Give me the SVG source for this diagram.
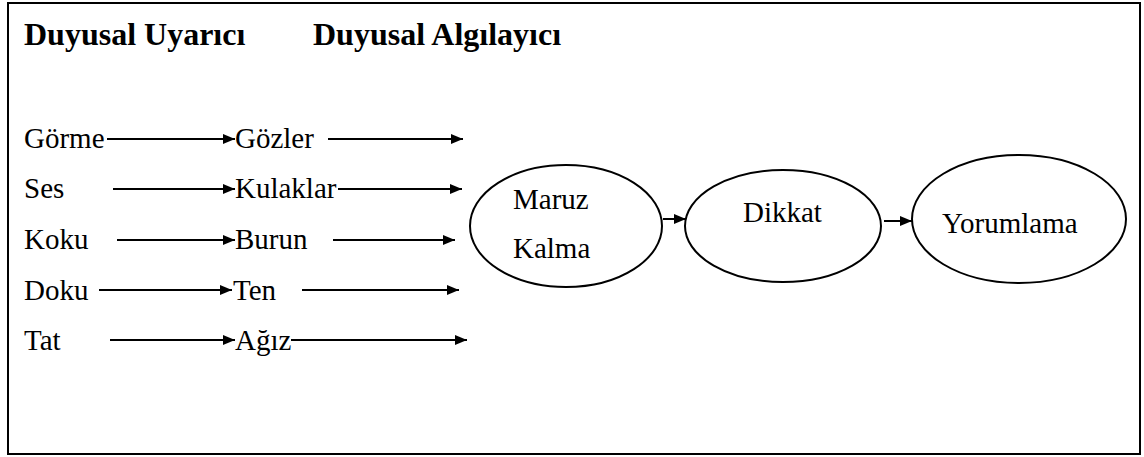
<svg xmlns="http://www.w3.org/2000/svg" width="1144" height="457" viewBox="0 0 1144 457">
<style>
text{font-family:'Liberation Serif','Times New Roman',Times,'DejaVu Serif',serif;fill:#000}
.t{font-size:29px}
.h{font-size:32px;font-weight:bold}
.c line{stroke:#000;stroke-width:2}
.e{fill:none;stroke:#000;stroke-width:2}
</style>
<defs>
<marker id="ah" viewBox="0 0 12 10" refX="12" refY="5" markerWidth="12" markerHeight="10" markerUnits="userSpaceOnUse" orient="auto">
<path d="M0,0 L12,5 L0,10 Z" fill="#000"/>
</marker>
</defs>
<rect x="0" y="0" width="1144" height="457" fill="#fff"/>
<rect x="8" y="3" width="1132" height="451" fill="none" stroke="#000" stroke-width="2"/>
<g id="headers">
<text class="h" x="24" y="45">Duyusal Uyarıcı</text>
<text class="h" x="313" y="45">Duyusal Algılayıcı</text>
</g>
<g id="stimuli">
<text class="t" x="24" y="148">Görme</text>
<text class="t" x="24" y="198">Ses</text>
<text class="t" x="24" y="249">Koku</text>
<text class="t" x="24" y="300">Doku</text>
<text class="t" x="24" y="350">Tat</text>
</g>
<g id="receptors">
<text class="t" x="235" y="148">Gözler</text>
<text class="t" x="235" y="198">Kulaklar</text>
<text class="t" x="235" y="249">Burun</text>
<text class="t" x="233" y="300">Ten</text>
<text class="t" x="235" y="350">Ağız</text>
</g>
<g id="maruz-kalma">
<ellipse class="e" cx="566" cy="226" rx="96" ry="61"/>
<text class="t" x="513" y="209">Maruz</text>
<text class="t" x="513" y="258">Kalma</text>
</g>
<g id="dikkat">
<ellipse class="e" cx="783" cy="226" rx="98" ry="56"/>
<text class="t" x="743" y="222">Dikkat</text>
</g>
<g id="yorumlama">
<ellipse class="e" cx="1019" cy="219" rx="107" ry="64"/>
<text class="t" x="942" y="233">Yorumlama</text>
</g>
<g id="connectors" class="c">
<line x1="107" y1="139" x2="235" y2="139" marker-end="url(#ah)"/>
<line x1="328" y1="139" x2="463" y2="139" marker-end="url(#ah)"/>
<line x1="113" y1="189" x2="235" y2="189" stroke-width="1.3" marker-end="url(#ah)"/>
<line x1="338" y1="189" x2="462" y2="189" marker-end="url(#ah)"/>
<line x1="117" y1="240" x2="235" y2="240" marker-end="url(#ah)"/>
<line x1="333" y1="240" x2="455" y2="240" marker-end="url(#ah)"/>
<line x1="99" y1="290" x2="232" y2="290" marker-end="url(#ah)"/>
<line x1="302" y1="290" x2="459" y2="290" marker-end="url(#ah)"/>
<line x1="110" y1="340" x2="235" y2="340" marker-end="url(#ah)"/>
<line x1="291" y1="340" x2="467" y2="340" marker-end="url(#ah)"/>
<line x1="663" y1="219" x2="686" y2="219" marker-end="url(#ah)"/>
<line x1="884" y1="221" x2="912" y2="221" marker-end="url(#ah)"/>
</g>
</svg>
